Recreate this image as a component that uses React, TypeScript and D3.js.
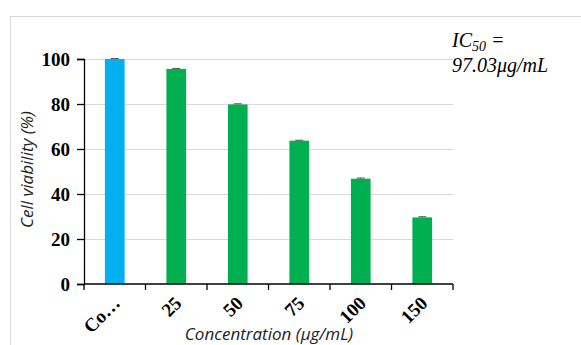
import React, { useEffect, useRef } from "react";
import * as d3 from "d3";

// datos
const categories = ["Control", "25", "50", "75", "100", "150"];
const viability = [100, 95.6, 79.8, 63.7, 46.8, 29.6];
const errors = [0.2, 0.2, 0.3, 0.2, 0.3, 0.3];
const yTicks = [0, 20, 40, 60, 80, 100];
const barColors = ["#00B0F0", "#00B050", "#00B050", "#00B050", "#00B050", "#00B050"];

const App = () => {
  const svgRef = useRef<SVGSVGElement>(null);

  useEffect(() => {
    const svg = d3.select(svgRef.current);
    svg.selectAll("*").remove();

    const width = 581;
    const height = 345;
    const marginLeft = 84;
    const marginRight = 128;
    const marginTop = 59;
    const plotBottom = 284;

    const x = d3
      .scaleBand<string>()
      .domain(categories)
      .range([marginLeft, width - marginRight])
      .paddingInner(0.68)
      .paddingOuter(0.34);

    const y = d3.scaleLinear().domain([0, 100]).range([plotBottom, marginTop]);

    // marco exterior
    svg
      .append("rect")
      .attr("x", 10.5)
      .attr("y", 16.5)
      .attr("width", width + 20)
      .attr("height", height + 20)
      .attr("fill", "white")
      .attr("stroke", "#d9d9d9");

    // rejilla
    svg
      .append("g")
      .selectAll("line")
      .data(yTicks.filter((d) => d > 0))
      .join("line")
      .attr("x1", marginLeft)
      .attr("x2", width - marginRight)
      .attr("y1", (d) => Math.round(y(d)) + 0.5)
      .attr("y2", (d) => Math.round(y(d)) + 0.5)
      .attr("stroke", "#d9d9d9")
      .attr("stroke-width", 1.2);

    // barras
    svg
      .append("g")
      .selectAll("rect")
      .data(viability)
      .join("rect")
      .attr("x", (d, i) => x(categories[i])!)
      .attr("y", (d) => y(d))
      .attr("width", x.bandwidth())
      .attr("height", (d) => y(0) - y(d))
      .attr("fill", (d, i) => barColors[i]);

    // barras de error
    const eb = svg.append("g").attr("stroke", "#555").attr("stroke-width", 1);
    viability.forEach((v, i) => {
      const cx = x(categories[i])! + x.bandwidth() / 2;
      eb.append("line")
        .attr("x1", cx - 4)
        .attr("x2", cx + 4)
        .attr("y1", y(v + errors[i]))
        .attr("y2", y(v + errors[i]));
      eb.append("line")
        .attr("x1", cx)
        .attr("x2", cx)
        .attr("y1", y(v + errors[i]))
        .attr("y2", y(v));
    });

    // eje Y
    const yAxis = svg
      .append("g")
      .attr("transform", `translate(${marginLeft},0)`)
      .call(d3.axisLeft(y).tickValues(yTicks).tickSize(7).tickPadding(7));
    yAxis.selectAll("path, line").attr("stroke", "#000").attr("stroke-width", 1.3);
    yAxis
      .selectAll("text")
      .attr("font-family", "'Liberation Serif', 'Times New Roman', serif")
      .attr("font-weight", "bold")
      .attr("font-size", 19)
      .attr("fill", "#000")
      .attr("dy", "0.33em");

    // eje X con marcas entre categorías
    const step = x.step();
    const x0 = marginLeft;
    const xAxis = svg.append("g");
    xAxis
      .append("line")
      .attr("x1", x0)
      .attr("x2", width - marginRight)
      .attr("y1", plotBottom)
      .attr("y2", plotBottom)
      .attr("stroke", "#000")
      .attr("stroke-width", 1.3);
    d3.range(categories.length + 1).forEach((i) => {
      xAxis
        .append("line")
        .attr("x1", x0 + i * step)
        .attr("x2", x0 + i * step)
        .attr("y1", plotBottom)
        .attr("y2", plotBottom + 6)
        .attr("stroke", "#000")
        .attr("stroke-width", 1.3);
    });
    categories.forEach((c, i) => {
      const cx = x(c)! + x.bandwidth() / 2 - 3;
      xAxis
        .append("text")
        .attr("transform", `translate(${cx},${plotBottom + 11}) rotate(-45)`)
        .attr("text-anchor", "end")
        .attr("dy", "0.7em")
        .attr("font-family", "'Liberation Serif', 'Times New Roman', serif")
        .attr("font-weight", "bold")
        .attr("font-size", 19)
        .text(c === "Control" ? "Co…" : c);
    });

    // títulos de ejes
    svg
      .append("text")
      .attr("x", 269)
      .attr("y", 340)
      .attr("text-anchor", "middle")
      .attr("font-family", "'Open Sans', sans-serif")
      .attr("font-style", "italic")
      .attr("font-size", 17)
      .attr("fill", "#222")
      .text("Concentration (μg/mL)");

    svg
      .append("text")
      .attr("transform", `translate(33,${(marginTop + plotBottom) / 2 - 2}) rotate(-90)`)
      .attr("text-anchor", "middle")
      .attr("font-family", "'Open Sans', sans-serif")
      .attr("font-style", "italic")
      .attr("font-size", 17)
      .attr("fill", "#222")
      .text("Cell viability (%)");

    // anotación IC50
    const ic = svg
      .append("text")
      .attr("font-family", "'Liberation Serif', 'Times New Roman', serif")
      .attr("font-style", "italic")
      .attr("font-size", 20)
      .attr("fill", "#000");
    ic.append("tspan").attr("x", 452).attr("y", 47).text("IC");
    ic.append("tspan").attr("dy", 4).attr("font-size", 14).text("50");
    ic.append("tspan").attr("dy", -4).text(" =");
    ic.append("tspan").attr("x", 452).attr("y", 72).text("97.03μg/mL");
  }, []);

  return (
    <svg
      ref={svgRef}
      width={581}
      height={345}
      style={{ position: "absolute", left: 0, top: 0, background: "white" }}
    ></svg>
  );
};

export default App;
